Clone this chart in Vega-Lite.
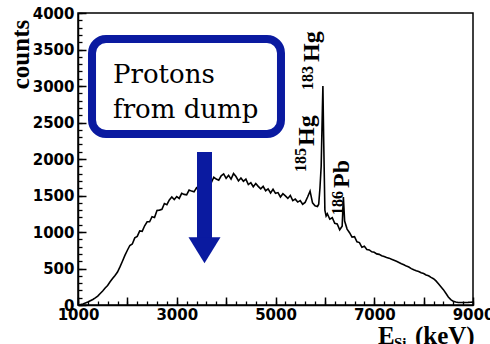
{
  "$schema": "https://vega.github.io/schema/vega-lite/v6.json",
  "width": 395,
  "height": 292,
  "autosize": "none",
  "padding": {"left": 78, "top": 13, "right": 17, "bottom": 39},
  "background": "white",
  "config": {"view": {"stroke": "black", "strokeWidth": 1.5}},
  "datasets": {
    "spectrum": [
      {"E":1000,"c":0},{"E":1050,"c":5},{"E":1100,"c":14},{"E":1150,"c":28},{"E":1200,"c":40},{"E":1250,"c":58},{"E":1300,"c":76},{"E":1350,"c":98},{"E":1400,"c":122},{"E":1450,"c":158},
      {"E":1500,"c":192},{"E":1550,"c":232},{"E":1600,"c":268},{"E":1650,"c":318},{"E":1700,"c":362},{"E":1750,"c":405},{"E":1800,"c":452},{"E":1850,"c":522},{"E":1900,"c":600},{"E":1950,"c":680},
      {"E":2000,"c":750},{"E":2050,"c":815},{"E":2100,"c":835},{"E":2150,"c":920},{"E":2200,"c":940},{"E":2250,"c":1015},{"E":2300,"c":1010},{"E":2350,"c":1085},{"E":2400,"c":1140},{"E":2450,"c":1140},
      {"E":2500,"c":1210},{"E":2550,"c":1200},{"E":2600,"c":1295},{"E":2650,"c":1300},{"E":2700,"c":1310},{"E":2750,"c":1390},{"E":2800,"c":1375},{"E":2850,"c":1440},{"E":2900,"c":1480},{"E":2950,"c":1445},
      {"E":3000,"c":1485},{"E":3050,"c":1460},{"E":3100,"c":1530},{"E":3150,"c":1515},{"E":3200,"c":1510},{"E":3250,"c":1575},{"E":3300,"c":1560},{"E":3350,"c":1550},{"E":3400,"c":1605},{"E":3450,"c":1570},
      {"E":3500,"c":1640},{"E":3550,"c":1685},{"E":3600,"c":1650},{"E":3650,"c":1695},{"E":3700,"c":1675},{"E":3750,"c":1750},{"E":3800,"c":1725},{"E":3850,"c":1710},{"E":3900,"c":1770},{"E":3950,"c":1795},
      {"E":4000,"c":1735},{"E":4050,"c":1777},{"E":4100,"c":1725},{"E":4150,"c":1800},{"E":4200,"c":1760},{"E":4250,"c":1700},{"E":4300,"c":1740},{"E":4350,"c":1695},{"E":4400,"c":1725},{"E":4450,"c":1650},
      {"E":4500,"c":1675},{"E":4550,"c":1620},{"E":4600,"c":1665},{"E":4650,"c":1625},{"E":4700,"c":1590},{"E":4750,"c":1625},{"E":4800,"c":1565},{"E":4850,"c":1590},{"E":4900,"c":1535},{"E":4950,"c":1585},
      {"E":5000,"c":1530},{"E":5050,"c":1540},{"E":5100,"c":1480},{"E":5150,"c":1525},{"E":5200,"c":1495},{"E":5250,"c":1460},{"E":5300,"c":1500},{"E":5350,"c":1430},{"E":5400,"c":1450},{"E":5450,"c":1410},
      {"E":5500,"c":1430},{"E":5550,"c":1380},{"E":5600,"c":1405},{"E":5650,"c":1480},{"E":5700,"c":1560},{"E":5750,"c":1400},{"E":5800,"c":1360},{"E":5850,"c":1350},{"E":5875,"c":1380},{"E":5900,"c":1600},
      {"E":5925,"c":1900},{"E":5950,"c":2700},{"E":5960,"c":3000},{"E":5975,"c":2300},{"E":6000,"c":1300},{"E":6025,"c":1220},{"E":6050,"c":1250},{"E":6100,"c":1175},{"E":6150,"c":1195},{"E":6200,"c":1120},
      {"E":6250,"c":1110},{"E":6300,"c":1030},{"E":6350,"c":1080},{"E":6375,"c":1480},{"E":6400,"c":1150},{"E":6450,"c":1040},{"E":6500,"c":990},{"E":6550,"c":930},{"E":6600,"c":935},{"E":6650,"c":865},
      {"E":6700,"c":855},{"E":6750,"c":790},{"E":6800,"c":805},{"E":6850,"c":760},{"E":6900,"c":755},{"E":6950,"c":728},{"E":7000,"c":722},{"E":7050,"c":700},{"E":7100,"c":694},{"E":7150,"c":676},
      {"E":7200,"c":664},{"E":7250,"c":652},{"E":7300,"c":642},{"E":7350,"c":626},{"E":7400,"c":612},{"E":7450,"c":598},{"E":7500,"c":582},{"E":7550,"c":566},{"E":7600,"c":552},{"E":7650,"c":533},
      {"E":7700,"c":520},{"E":7750,"c":498},{"E":7800,"c":482},{"E":7850,"c":468},{"E":7900,"c":460},{"E":7950,"c":442},{"E":8000,"c":432},{"E":8050,"c":412},{"E":8100,"c":400},{"E":8150,"c":378},
      {"E":8200,"c":360},{"E":8250,"c":330},{"E":8300,"c":290},{"E":8350,"c":250},{"E":8400,"c":210},{"E":8450,"c":160},{"E":8500,"c":110},{"E":8550,"c":75},{"E":8600,"c":50},{"E":8650,"c":40},
      {"E":8700,"c":35},{"E":8750,"c":35},{"E":8800,"c":35},{"E":8850,"c":35},{"E":8900,"c":36},{"E":8950,"c":38},{"E":9000,"c":40}
    ],
    "one": [{}]
  },
  "resolve": {"axis": {"x": "independent", "y": "independent"}},
  "layer": [
    {
      "data": {"name": "spectrum"},
      "mark": {"type": "line", "strokeOpacity": 0},
      "encoding": {
        "x": {"field": "E", "type": "quantitative", "scale": {"domain": [1000, 9000], "nice": false, "zero": false},
          "axis": {"orient": "bottom", "values": [1000,1200,1400,1600,1800,2000,2200,2400,2600,2800,3000,3200,3400,3600,3800,4000,4200,4400,4600,4800,5000,5200,5400,5600,5800,6000,6200,6400,6600,6800,7000,7200,7400,7600,7800,8000,8200,8400,8600,8800,9000],
            "labels": false, "domain": false, "grid": false, "title": null, "tickSize": -4, "tickColor": "black", "tickWidth": 1.3}},
        "y": {"field": "c", "type": "quantitative", "scale": {"domain": [0, 4000], "nice": false},
          "axis": {"orient": "left", "values": [0,100,200,300,400,500,600,700,800,900,1000,1100,1200,1300,1400,1500,1600,1700,1800,1900,2000,2100,2200,2300,2400,2500,2600,2700,2800,2900,3000,3100,3200,3300,3400,3500,3600,3700,3800,3900,4000],
            "labels": false, "domain": false, "grid": false, "title": null, "tickSize": -4, "tickColor": "black", "tickWidth": 1.3}}
      }
    },
    {
      "data": {"name": "spectrum"},
      "mark": {"type": "line", "color": "black", "strokeWidth": 1.6},
      "encoding": {
        "x": {"field": "E", "type": "quantitative",
          "axis": {"orient": "bottom", "values": [1000,2000,3000,4000,5000,6000,7000,8000,9000], "format": "d",
            "labelExpr": "datum.value % 2000 == 1000 ? datum.label : ''",
            "tickSize": -8, "tickColor": "black", "tickWidth": 1.5, "domainColor": "black", "domainWidth": 1.5,
            "labelFont": "DejaVu Sans", "labelFontWeight": "bold", "labelFontSize": 15, "labelColor": "black", "labelPadding": 10,
            "labelFlush": false, "labelOverlap": false, "grid": false, "title": null}},
        "y": {"field": "c", "type": "quantitative",
          "axis": {"orient": "left", "values": [0,500,1000,1500,2000,2500,3000,3500,4000], "format": "d",
            "tickSize": -8, "tickColor": "black", "tickWidth": 1.5, "domainColor": "black", "domainWidth": 1.5,
            "labelFont": "DejaVu Sans", "labelFontWeight": "bold", "labelFontSize": 15, "labelColor": "black", "labelPadding": 12,
            "labelOverlap": false, "labelFlush": false, "grid": false,
            "title": "counts", "titleFont": "Liberation Serif", "titleFontWeight": "bold", "titleFontSize": 25, "titleColor": "black",
            "titleAngle": -90, "titleAlign": "center", "titleBaseline": "alphabetic", "titleX": -50, "titleY": 41}}
      }
    },
    {
      "data": {"name": "one"},
      "mark": {"type": "rect", "fill": null, "fillOpacity": 0, "stroke": "#0a1aa0", "strokeWidth": 8, "cornerRadius": 14},
      "encoding": {"x": {"datum": 1284, "type": "quantitative", "axis": null}, "x2": {"datum": 5111}, "y": {"datum": 3644, "type": "quantitative", "axis": null}, "y2": {"datum": 2342}}
    },
    {
      "data": {"name": "one"},
      "mark": {"type": "text", "text": "Protons", "font": "DejaVu Serif", "fontSize": 26, "align": "left", "baseline": "alphabetic", "color": "black"},
      "encoding": {"x": {"datum": 1709, "type": "quantitative", "axis": null}, "y": {"datum": 3041, "type": "quantitative", "axis": null}}
    },
    {
      "data": {"name": "one"},
      "mark": {"type": "text", "text": "from dump", "font": "DejaVu Serif", "fontSize": 26, "align": "left", "baseline": "alphabetic", "color": "black"},
      "encoding": {"x": {"datum": 1709, "type": "quantitative", "axis": null}, "y": {"datum": 2562, "type": "quantitative", "axis": null}}
    },
    {
      "data": {"name": "one"},
      "mark": {"type": "rule", "color": "#0a1aa0", "strokeWidth": 15, "strokeCap": "butt"},
      "encoding": {"x": {"datum": 3562, "type": "quantitative", "axis": null}, "y": {"datum": 2096, "type": "quantitative", "axis": null}, "y2": {"datum": 880}}
    },
    {
      "data": {"name": "one"},
      "mark": {"type": "point", "shape": "M -1 -0.8 L 1 -0.8 L 0 0.82 Z", "size": 1024, "filled": true, "color": "#0a1aa0", "opacity": 1, "strokeWidth": 0},
      "encoding": {"x": {"datum": 3562, "type": "quantitative", "axis": null}, "y": {"datum": 753, "type": "quantitative", "axis": null}}
    },
    {
      "data": {"name": "one"},
      "mark": {"type": "text", "text": "183", "font": "Liberation Serif", "fontWeight": "bold", "fontSize": 16, "angle": 270, "align": "left", "baseline": "alphabetic", "color": "black"},
      "encoding": {"x": {"datum": 5759, "type": "quantitative", "axis": null}, "y": {"datum": 2945, "type": "quantitative", "axis": null}}
    },
    {
      "data": {"name": "one"},
      "mark": {"type": "text", "text": "Hg", "font": "Liberation Serif", "fontWeight": "bold", "fontSize": 24, "angle": 270, "align": "left", "baseline": "alphabetic", "color": "black"},
      "encoding": {"x": {"datum": 5880, "type": "quantitative", "axis": null}, "y": {"datum": 3329, "type": "quantitative", "axis": null}}
    },
    {
      "data": {"name": "one"},
      "mark": {"type": "text", "text": "185", "font": "Liberation Serif", "fontWeight": "bold", "fontSize": 16, "angle": 270, "align": "left", "baseline": "alphabetic", "color": "black"},
      "encoding": {"x": {"datum": 5617, "type": "quantitative", "axis": null}, "y": {"datum": 1822, "type": "quantitative", "axis": null}}
    },
    {
      "data": {"name": "one"},
      "mark": {"type": "text", "text": "Hg", "font": "Liberation Serif", "fontWeight": "bold", "fontSize": 24, "angle": 270, "align": "left", "baseline": "alphabetic", "color": "black"},
      "encoding": {"x": {"datum": 5779, "type": "quantitative", "axis": null}, "y": {"datum": 2178, "type": "quantitative", "axis": null}}
    },
    {
      "data": {"name": "one"},
      "mark": {"type": "text", "text": "186", "font": "Liberation Serif", "fontWeight": "bold", "fontSize": 16, "angle": 270, "align": "left", "baseline": "alphabetic", "color": "black"},
      "encoding": {"x": {"datum": 6367, "type": "quantitative", "axis": null}, "y": {"datum": 1233, "type": "quantitative", "axis": null}}
    },
    {
      "data": {"name": "one"},
      "mark": {"type": "text", "text": "Pb", "font": "Liberation Serif", "fontWeight": "bold", "fontSize": 24, "angle": 270, "align": "left", "baseline": "alphabetic", "color": "black"},
      "encoding": {"x": {"datum": 6488, "type": "quantitative", "axis": null}, "y": {"datum": 1603, "type": "quantitative", "axis": null}}
    },
    {
      "data": {"name": "one"},
      "mark": {"type": "text", "text": "E", "font": "Liberation Serif", "fontWeight": "bold", "fontSize": 25, "align": "left", "baseline": "alphabetic", "color": "black"},
      "encoding": {"x": {"datum": 7075, "type": "quantitative", "axis": null}, "y": {"datum": -535, "type": "quantitative", "axis": null}}
    },
    {
      "data": {"name": "one"},
      "mark": {"type": "text", "text": "Si", "font": "Liberation Serif", "fontWeight": "bold", "fontSize": 15, "align": "left", "baseline": "alphabetic", "color": "black"},
      "encoding": {"x": {"datum": 7399, "type": "quantitative", "axis": null}, "y": {"datum": -590, "type": "quantitative", "axis": null}}
    },
    {
      "data": {"name": "one"},
      "mark": {"type": "text", "text": "(keV)", "font": "Liberation Serif", "fontWeight": "bold", "fontSize": 25, "align": "left", "baseline": "alphabetic", "color": "black"},
      "encoding": {"x": {"datum": 7825, "type": "quantitative", "axis": null}, "y": {"datum": -535, "type": "quantitative", "axis": null}}
    }
  ]
}
